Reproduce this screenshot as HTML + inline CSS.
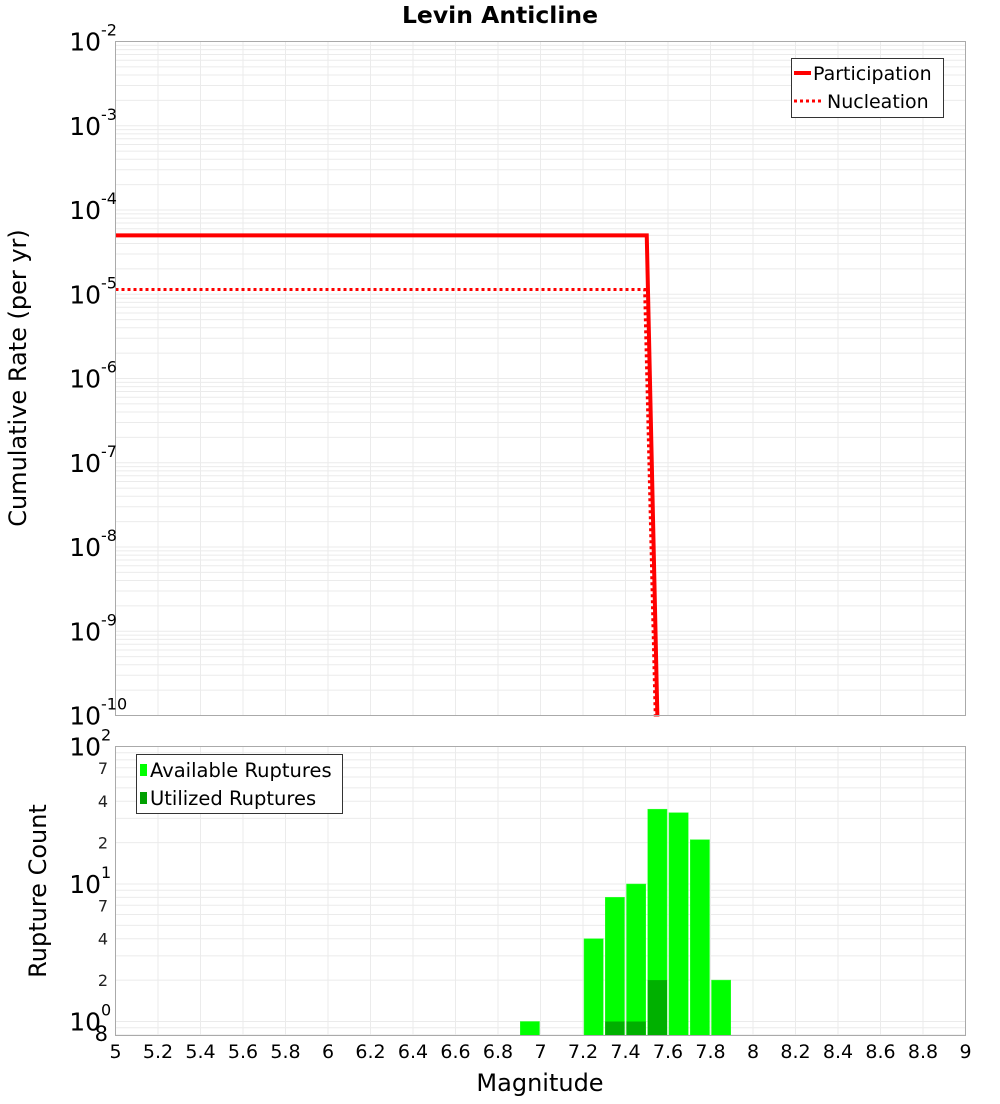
<!DOCTYPE html>
<html><head><meta charset="utf-8"><style>
body{margin:0;background:#fff;font-family:"DejaVu Sans","Liberation Sans",sans-serif}
svg text{font-family:"DejaVu Sans","Liberation Sans",sans-serif}
</style></head><body>
<svg id="c" width="1000" height="1100" xmlns="http://www.w3.org/2000/svg"></svg>
<script>
const partMags=[5,7.5,7.55];
const partRates=[5.0e-5,5.0e-5,1e-11];
const nuclMags=[5,7.49,7.54];
const nuclRates=[1.14e-5,1.14e-5,1e-11];
const binCenters=[6.95,7.25,7.35,7.45,7.55,7.65,7.75,7.85];
const availCounts=[1,4,8,10,35,33,21,2];
const utilCenters=[7.35,7.45,7.55];
const utilCounts=[1,1,2];
const xTicks=[5,5.2,5.4,5.6,5.8,6,6.2,6.4,6.6,6.8,7,7.2,7.4,7.6,7.8,8,8.2,8.4,8.6,8.8,9];
const topDecades=[-2,-3,-4,-5,-6,-7,-8,-9,-10];
const botMinorLabels=[2,4,7];

const S=document.getElementById('c');const NS='http://www.w3.org/2000/svg';
function el(t,a,txt){const e=document.createElementNS(NS,t);for(const k in a)e.setAttribute(k,a[k]);if(txt!=null)e.textContent=txt;S.appendChild(e);return e;}
const L=115.5,R=965.5;
const X=m=>L+(m-5)/4*(R-L);
const T0=41.5,T1=715.5;
const YT=v=>T0+(-2-Math.log10(v))/8*(T1-T0);
const B0=746.5,B1=1035.5;const bDec=137.5;
const YB=v=>B0+(2-Math.log10(v))*bDec;

let t=el('text',{x:500,y:23,'text-anchor':'middle','font-size':23.5,'font-weight':'bold'},'Levin Anticline');


for(let d=-10;d<-2;d++)for(let k=1;k<10;k++){const y=YT(k*Math.pow(10,d));if(y<T0)continue;
 const g=el('line',{x1:L,x2:R,y1:y,y2:y,stroke:'#ebebeb','stroke-width':1});}
for(const m of xTicks){const g=el('line',{x1:X(m),x2:X(m),y1:T0,y2:T1,stroke:'#ebebeb'});}
for(let d=-1;d<2;d++)for(let k=1;k<10;k++){const v=k*Math.pow(10,d);const y=YB(v);if(y<B0||y>B1)continue;
 const g=el('line',{x1:L,x2:R,y1:y,y2:y,stroke:'#ebebeb'});}
for(const m of xTicks){const g=el('line',{x1:X(m),x2:X(m),y1:B0,y2:B1,stroke:'#ebebeb'});}

function poly(ms,vs,dash,name){const pts=ms.map((m,i)=>X(m)+','+Math.min(YT(vs[i]),T1+1)).join(' ');
 const p=el('polyline',{points:pts,fill:'none',stroke:'#ff0000','stroke-width':dash?3:4});if(dash)p.setAttribute('stroke-dasharray','3,3');
 }
poly(nuclMags,nuclRates,true,'nucleation-line');
poly(partMags,partRates,false,'participation-line');
const bw=(X(5.1)-X(5))-2;
binCenters.forEach((m,i)=>{const y=YB(availCounts[i]);const b=el('rect',{x:X(m)-bw/2,y:y,width:bw,height:B1-y,fill:'#00ff00',stroke:'#33ff33','stroke-width':0.5});
 });
utilCenters.forEach((m,i)=>{const y=YB(utilCounts[i]);const b=el('rect',{x:X(m)-bw/2,y:y,width:bw,height:B1-y,fill:'#00b000'});
 });

let f=el('rect',{x:L,y:T0,width:R-L,height:T1-T0,fill:'none',stroke:'#aaa'});
f=el('rect',{x:L,y:B0,width:R-L,height:B1-B0,fill:'none',stroke:'#aaa'});

for(const d of topDecades){const y=YT(Math.pow(10,d));
 const a=el('text',{x:101,y:y+9,'text-anchor':'end','font-size':25},'10');
 const s=el('text',{x:101,y:y-6,'font-size':16},String(d));}
[2,1,0].forEach(d=>{const y=YB(Math.pow(10,d));
 const a=el('text',{x:101,y:y+9,'text-anchor':'end','font-size':25},'10');
 const s=el('text',{x:101,y:y-6,'font-size':16},String(d));});
for(let d=0;d<2;d++)for(const k of botMinorLabels){const y=YB(k*Math.pow(10,d));
 const a=el('text',{x:108,y:y+6,'text-anchor':'end','font-size':16,fill:'#222'},String(k));}
t=el('text',{x:108,y:1041,'text-anchor':'end','font-size':21},'8');

for(const m of xTicks){const a=el('text',{x:X(m),y:1058,'text-anchor':'middle','font-size':19},String(m));}
t=el('text',{x:540,y:1091,'text-anchor':'middle','font-size':24},'Magnitude');
t=el('text',{x:0,y:0,'text-anchor':'middle','font-size':24,transform:'translate(26,378) rotate(-90)'},'Cumulative Rate (per yr)');
t=el('text',{x:0,y:0,'text-anchor':'middle','font-size':24,transform:'translate(46,891) rotate(-90)'},'Rupture Count');

let lg=el('rect',{x:791.5,y:58.5,width:152,height:59,fill:'#fff',stroke:'#333'});
let ln=el('line',{x1:794,x2:811,y1:73,y2:73,stroke:'#f00','stroke-width':4});
t=el('text',{x:813,y:80,'font-size':19},'Participation');
ln=el('line',{x1:794,x2:822,y1:101,y2:101,stroke:'#f00','stroke-width':3,'stroke-dasharray':'3,3'});
t=el('text',{x:827,y:108,'font-size':19},'Nucleation');
lg=el('rect',{x:136.5,y:754.5,width:206,height:59,fill:'#fff',stroke:'#333'});
let sw=el('rect',{x:140,y:764,width:7,height:12,fill:'#00ff00'});
t=el('text',{x:150,y:777,'font-size':19.5},'Available Ruptures');
sw=el('rect',{x:140,y:792,width:7,height:12,fill:'#00a000'});
t=el('text',{x:150,y:805,'font-size':19.5},'Utilized Ruptures');
</script>
</body></html>
